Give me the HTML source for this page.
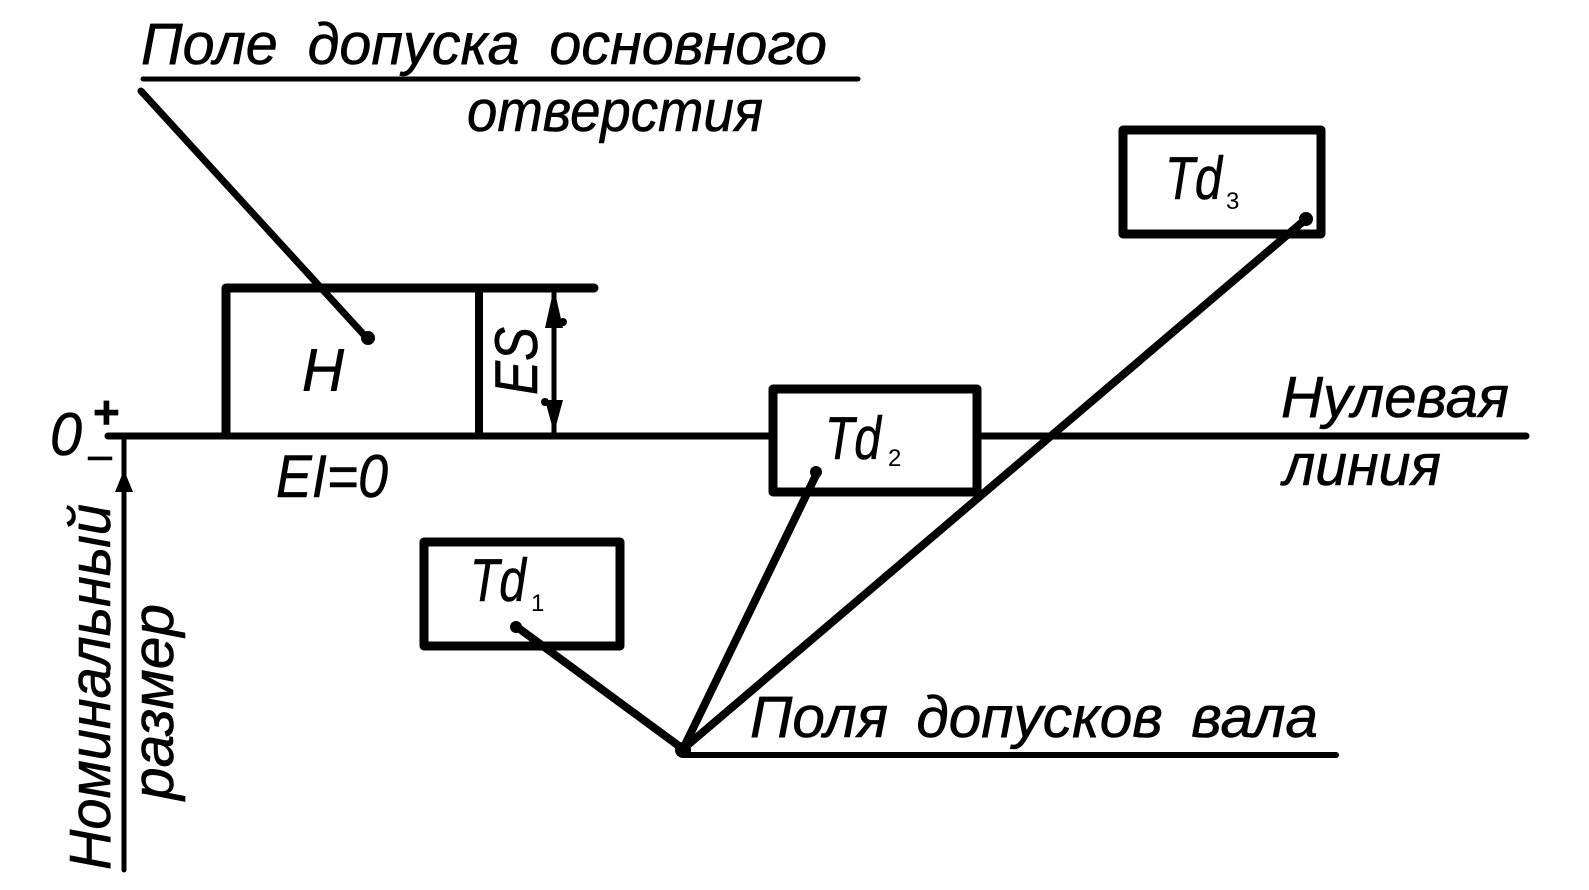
<!DOCTYPE html>
<html><head><meta charset="utf-8"><style>
html,body{margin:0;padding:0;background:#fff;width:1589px;height:890px;overflow:hidden}
svg{display:block}
text{font-family:"Liberation Sans",sans-serif;font-style:italic;fill:#000;stroke:#000;stroke-width:.6}
</style></head><body>
<svg width="1589" height="890" viewBox="0 0 1589 890" xmlns="http://www.w3.org/2000/svg">
<g stroke="#000" fill="none" stroke-linecap="round" stroke-linejoin="round">
<path d="M143 79H858" stroke-width="5"/>
<path d="M141 91L365 336" stroke-width="7"/>
<path d="M226 434V288H594" stroke-width="9"/>
<path d="M479 288V434" stroke-width="8"/>
<path d="M554 288V434" stroke-width="5"/>
<path d="M108 436H770M982 436H1526" stroke-width="7"/>
<path d="M124 437V870" stroke-width="5"/>
<rect x="773" y="389" width="204" height="103" stroke-width="9"/>
<rect x="424" y="542" width="196" height="104" stroke-width="9"/>
<rect x="1123" y="130" width="198" height="104" stroke-width="9"/>
<path d="M683 749L817 473" stroke-width="8"/>
<path d="M683 749L1306 219" stroke-width="8"/>
<path d="M683 749L517 627" stroke-width="8"/>
<path d="M683 755H1336" stroke-width="6"/>
</g>
<g fill="#000">
<circle cx="368" cy="338" r="7"/>
<circle cx="816" cy="472" r="6"/>
<circle cx="516" cy="627" r="6"/>
<circle cx="1306" cy="219" r="7"/>
<circle cx="683" cy="750" r="8"/>
<path d="M554 288L545 328H563Z"/>
<circle cx="563" cy="322" r="4"/>
<path d="M554 433L545 400H563Z"/>
<circle cx="545" cy="402" r="4"/>
<path d="M124 470L115 492H133Z"/>
</g>
<text x="141" y="64" font-size="58" textLength="686" lengthAdjust="spacingAndGlyphs" word-spacing="14">Поле допуска основного</text>
<text x="467" y="131" font-size="58" textLength="296" lengthAdjust="spacingAndGlyphs">отверстия</text>
<text x="302" y="391" font-size="60" textLength="42" lengthAdjust="spacingAndGlyphs">H</text>
<text transform="translate(537,395) rotate(-90)" font-size="60" textLength="68" lengthAdjust="spacingAndGlyphs">ES</text>
<text x="50" y="455" font-size="60" textLength="32" lengthAdjust="spacingAndGlyphs">0</text>
<text x="93" y="428" font-size="46" style="font-weight:bold;font-style:normal">+</text>
<text x="88" y="470" font-size="46" textLength="24" lengthAdjust="spacingAndGlyphs" style="font-style:normal">–</text>
<text x="276" y="497" font-size="60" textLength="112" lengthAdjust="spacingAndGlyphs">EI=0</text>
<text x="1281" y="417" font-size="58" textLength="228" lengthAdjust="spacingAndGlyphs">Нулевая</text>
<text x="1283" y="485" font-size="58" textLength="158" lengthAdjust="spacingAndGlyphs">линия</text>
<text x="825" y="459" font-size="60" textLength="56" lengthAdjust="spacingAndGlyphs">Td</text><text x="888" y="466" font-size="24" style="font-style:normal;stroke-width:0">2</text>
<text x="470" y="601" font-size="60" textLength="56" lengthAdjust="spacingAndGlyphs">Td</text><text x="531" y="611" font-size="24" style="font-style:normal;stroke-width:0">1</text>
<text x="1165" y="199" font-size="60" textLength="57" lengthAdjust="spacingAndGlyphs">Td</text><text x="1226" y="209" font-size="24" style="font-style:normal;stroke-width:0">3</text>
<text x="750" y="737" font-size="58" textLength="568" lengthAdjust="spacingAndGlyphs" word-spacing="12">Поля допусков вала</text>
<text transform="translate(110,870) rotate(-90)" font-size="58" textLength="366" lengthAdjust="spacingAndGlyphs">Номинальный</text>
<text transform="translate(173,800) rotate(-90)" font-size="58" textLength="196" lengthAdjust="spacingAndGlyphs">размер</text>
</svg>
</body></html>
